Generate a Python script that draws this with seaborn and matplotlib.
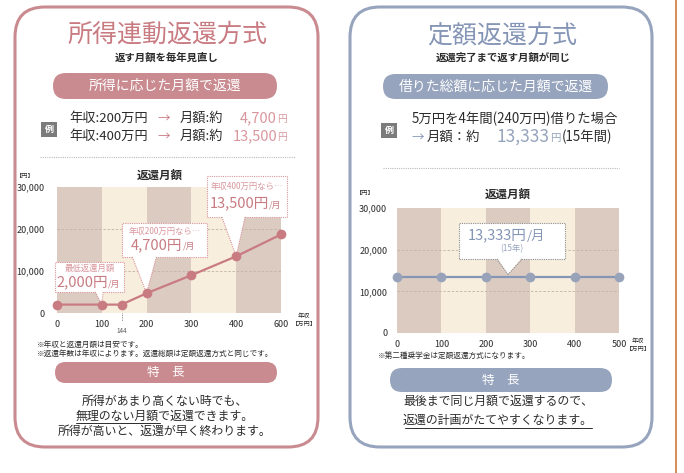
import seaborn as sns
import matplotlib.pyplot as plt
from matplotlib.patches import FancyBboxPatch, Polygon, Rectangle

# 所得連動返還方式（年収[万円] → 返還月額[円]）
income_x = [0, 100, 144, 200, 300, 400, 500]
income_y = [2000, 2000, 2000, 4700, 9000, 13500, 18700]
# 定額返還方式
fixed_x = [0, 100, 200, 300, 400, 500]
fixed_y = [13333, 13333, 13333, 13333, 13333, 13333]

x_ticks = [0, 100, 200, 300, 400, 500]
left_xlabels = ['0', '100', '200', '300', '400', '600']
right_xlabels = ['0', '100', '200', '300', '400', '500']
y_ticks = [0, 10000, 20000, 30000]
y_labels = ['0', '10,000', '20,000', '30,000']

PINK = '#c97b82'
PINK_LIGHT = '#d9979d'
PINK_PILL = '#c98b90'
BLUE = '#8595b6'
BLUE_PILL = '#97a4bd'
STRIPE_DARK = '#dccbc1'
STRIPE_LIGHT = '#f7eedd'
TEXT = '#2b2b2b'

sns.set_theme(style='white')
plt.rcParams['font.family'] = ['Noto Sans CJK JP', 'DejaVu Sans']

W, H = 684, 473
fig = plt.figure(figsize=(W / 100, H / 100), dpi=100)
fig.patch.set_facecolor('white')

# 背景用の軸（ピクセル座標）
bg = fig.add_axes([0, 0, 1, 1], zorder=0)
bg.set_xlim(0, W)
bg.set_ylim(H, 0)
bg.axis('off')


def pill(x, y, w, h, color, text, size):
    bg.add_patch(FancyBboxPatch((x, y), w, h, boxstyle=f'round,pad=0,rounding_size={h / 2}',
                                fc=color, ec='none'))
    bg.text(x + w / 2, y + h / 2, text, ha='center', va='center', color='white', fontsize=size)


def rei(x, y):
    bg.add_patch(Rectangle((x, y), 16, 15, fc='#7b7b7b', ec='none'))
    bg.text(x + 8, y + 7.5, '例', ha='center', va='center', color='white', fontsize=6.5, fontweight='bold')


# パネル枠
bg.add_patch(FancyBboxPatch((15, 7), 303, 440, boxstyle='round,pad=0,rounding_size=30',
                            fc='white', ec=PINK_PILL, lw=2.2))
bg.add_patch(FancyBboxPatch((350, 7), 302, 440, boxstyle='round,pad=0,rounding_size=30',
                            fc='white', ec=BLUE_PILL, lw=2.2))
bg.plot([676, 676], [0, H], color='#cf7a3c', lw=1.2)

# ---- 左パネルの文字 ----
bg.text(167, 35, '所得連動返還方式', ha='center', va='center', color=PINK, fontsize=18)
bg.text(167, 58, '返す月額を毎年見直し', ha='center', va='center', color=TEXT, fontsize=7.5, fontweight='bold')
pill(53, 73, 224, 26, PINK_PILL, '所得に応じた月額で返還', 10)
rei(41, 122)
for yy, income, amount in [(118, '200', '4,700'), (136, '400', '13,500')]:
    bg.text(69, yy, '年収:%s万円' % income, ha='left', va='center', color=TEXT, fontsize=9.5)
    bg.text(157, yy, '→', ha='left', va='center', color=PINK, fontsize=9)
    bg.text(180, yy, '月額:約', ha='left', va='center', color=TEXT, fontsize=9.5)
    bg.text(277, yy, amount, ha='right', va='center', color=PINK_LIGHT, fontsize=10.5)
    bg.text(277, yy + 0.5, '円', ha='left', va='center', color=PINK_LIGHT, fontsize=7)
bg.plot([40, 295], [157, 157], color='#bbbbbb', lw=0.8, ls=(0, (1, 1)))
bg.text(160, 175, '返還月額', ha='center', va='center', color=TEXT, fontsize=8.3, fontweight='bold')
bg.text(25, 176, '【円】', ha='center', va='center', color=TEXT, fontsize=4.5)
bg.text(304, 316, '年収', ha='center', va='center', color=TEXT, fontsize=4.5)
bg.text(304, 324, '【万円】', ha='center', va='center', color=TEXT, fontsize=4.5)
bg.text(37, 345, '※年収と返還月額は目安です。', ha='left', va='center', color=TEXT, fontsize=5.5)
bg.text(37, 354, '※返還年数は年収によります。返還総額は定額返還方式と同じです。', ha='left', va='center',
        color=TEXT, fontsize=5.5)
pill(55, 362, 222, 21, PINK_PILL, '特　長', 9)
bg.text(165, 401, '所得があまり高くない時でも、', ha='center', va='center', color=TEXT, fontsize=8.6)
bg.text(165, 416, '無理のない月額で返還できます。', ha='center', va='center', color=TEXT, fontsize=8.6)
bg.text(165, 431, '所得が高いと、返還が早く終わります。', ha='center', va='center', color=TEXT, fontsize=8.6)
bg.plot([76, 160], [423, 423], color=TEXT, lw=0.7)

# ---- 右パネルの文字 ----
bg.text(502, 36, '定額返還方式', ha='center', va='center', color=BLUE, fontsize=18)
bg.text(503, 58, '返還完了まで返す月額が同じ', ha='center', va='center', color=TEXT, fontsize=7.5, fontweight='bold')
pill(383, 74, 225, 25, BLUE_PILL, '借りた総額に応じた月額で返還', 10)
rei(381, 123)
bg.text(412, 119, '5万円を4年間(240万円)借りた場合', ha='left', va='center', color=TEXT, fontsize=9.6)
bg.text(412, 137, '→', ha='left', va='center', color=BLUE, fontsize=9)
bg.text(427, 137, '月額：約', ha='left', va='center', color=TEXT, fontsize=9.6)
bg.text(550, 137, '13,333', ha='right', va='center', color=BLUE_PILL, fontsize=12.5)
bg.text(550, 137.5, '円', ha='left', va='center', color=BLUE_PILL, fontsize=7.5)
bg.text(562, 137, '(15年間)', ha='left', va='center', color=TEXT, fontsize=9.6)
bg.plot([383, 619], [168, 168], color='#bbbbbb', lw=0.8, ls=(0, (1, 1)))
bg.text(508, 194, '返還月額', ha='center', va='center', color=TEXT, fontsize=8.3, fontweight='bold')
bg.text(365, 193, '【円】', ha='center', va='center', color=TEXT, fontsize=4.5)
bg.text(638, 341, '年収', ha='center', va='center', color=TEXT, fontsize=4.5)
bg.text(638, 349, '【万円】', ha='center', va='center', color=TEXT, fontsize=4.5)
bg.text(378, 357, '※第二種奨学金は定額返還方式になります。', ha='left', va='center', color=TEXT, fontsize=5.5)
pill(390, 368, 222, 24, BLUE_PILL, '特　長', 9)
bg.text(498, 401, '最後まで同じ月額で返還するので、', ha='center', va='center', color=TEXT, fontsize=8.6)
bg.text(498, 420, '返還の計画がたてやすくなります。', ha='center', va='center', color=TEXT, fontsize=8.6)
bg.plot([405, 592], [428, 428], color=TEXT, lw=0.7)


# ---- グラフ ----
def chart(rect, xs, ys, xlabels, line_color, marker_color, ypad):
    l, t, w, h = rect
    ax = fig.add_axes([l / W, 1 - (t + h) / H, w / W, h / H], zorder=2)
    for i in range(len(x_ticks) - 1):
        ax.axvspan(x_ticks[i], x_ticks[i + 1], color=STRIPE_DARK if i % 2 == 0 else STRIPE_LIGHT, lw=0, zorder=0)
    for g in y_ticks[1:-1]:
        ax.axhline(g, color='#c4b3a6', lw=0.6, ls=(0, (3, 2)), zorder=1)
    sns.lineplot(x=xs, y=ys, ax=ax, color=line_color, lw=1.6, marker='o', markersize=7,
                 markerfacecolor=marker_color, markeredgewidth=0, clip_on=False, zorder=10)
    ax.set_xlim(0, 500)
    ax.set_ylim(0, 30000)
    ax.set_xticks(x_ticks)
    ax.set_xticklabels(xlabels)
    ax.set_yticks(y_ticks)
    ax.set_yticklabels(y_labels)
    ax.tick_params(length=0, labelsize=6.5, colors=TEXT, pad=5)
    ax.tick_params(axis='y', pad=ypad)
    for s in ax.spines.values():
        s.set_visible(False)
    ax.grid(False)
    return ax


def callout(ax, x0, x1, y0, y1, base, tip, edge):
    ax.add_patch(Rectangle((x0, y0), x1 - x0, y1 - y0, fc='white', ec=edge, lw=0.8,
                           ls=(0, (1, 1)), clip_on=False, zorder=6))
    pts = [(base[0], y0 + 300), (base[1], y0 + 300), tip]
    ax.add_patch(Polygon(pts, closed=True, fc='white', ec='none', clip_on=False, zorder=7))
    for bx in base:
        ax.plot([bx, tip[0]], [y0, tip[1]], color=edge, lw=0.8, ls=(0, (1, 1)), clip_on=False, zorder=8)
    return (x0 + x1) / 2


def amount(ax, cx, y, big, unit, col, split_px, size=10.5, unit_size=6.5):
    ax.annotate(big, xy=(cx, y), xytext=(split_px * 0.72, 0), textcoords='offset points',
                ha='right', va='center', fontsize=size, color=col, annotation_clip=False, zorder=9)
    ax.annotate(unit, xy=(cx, y), xytext=(split_px * 0.72, -1), textcoords='offset points',
                ha='left', va='center', fontsize=unit_size, color=col, annotation_clip=False, zorder=9)


axL = chart((57, 187, 224, 126), income_x, income_y, left_xlabels, PINK, PINK, 9)
axR = chart((397, 208, 222, 125), fixed_x, fixed_y, right_xlabels, BLUE, '#98a3ba', 7)

axL.text(income_x[2], -0.14, '144', transform=axL.get_xaxis_transform(), ha='center', va='center',
         fontsize=4.5, color='#555555')
axL.plot([income_x[2], income_x[2]], [0, -0.06], transform=axL.get_xaxis_transform(),
         color='#777777', lw=0.6, ls=(0, (1, 1)), clip_on=False)

cx = callout(axL, -4, 150, 5000, 12200, (85, 103), (income_x[1], income_y[1]), PINK_LIGHT)
axL.text(cx, 10600, '最低返還月額', ha='center', va='center', fontsize=6, color=PINK_LIGHT, zorder=9)
amount(axL, cx, 7300, '2,000円', '/月', PINK, 18)

cx = callout(axL, 145, 335, 13330, 21430, (168, 222), (income_x[3], income_y[3]), PINK_LIGHT)
axL.text(cx, 19400, '年収200万円なら…', ha='center', va='center', fontsize=6, color=PINK_LIGHT, zorder=9)
amount(axL, cx, 16200, '4,700円', '/月', PINK, 18)

cx = callout(axL, 335, 513, 22860, 32620, (368, 420), (income_x[5], income_y[5]), PINK_LIGHT)
axL.text(cx, 30200, '年収400万円なら…', ha='center', va='center', fontsize=6, color=PINK_LIGHT,
         clip_on=False, zorder=9)
amount(axL, cx, 26100, '13,500円', '/月', PINK, 22)

cx = callout(axR, 140, 378, 17760, 26400, (225, 282),
             ((fixed_x[2] + fixed_x[3]) / 2, fixed_y[2] + 700), '#8e8e8e')
amount(axR, cx, 23500, '13,333円', '/月', BLUE, 15, size=10.5, unit_size=9.5)
axR.text(cx, 20200, '(15年)', ha='center', va='center', fontsize=6, color=BLUE_PILL, zorder=9)

fig.savefig('out.png', dpi=100, facecolor='white')
